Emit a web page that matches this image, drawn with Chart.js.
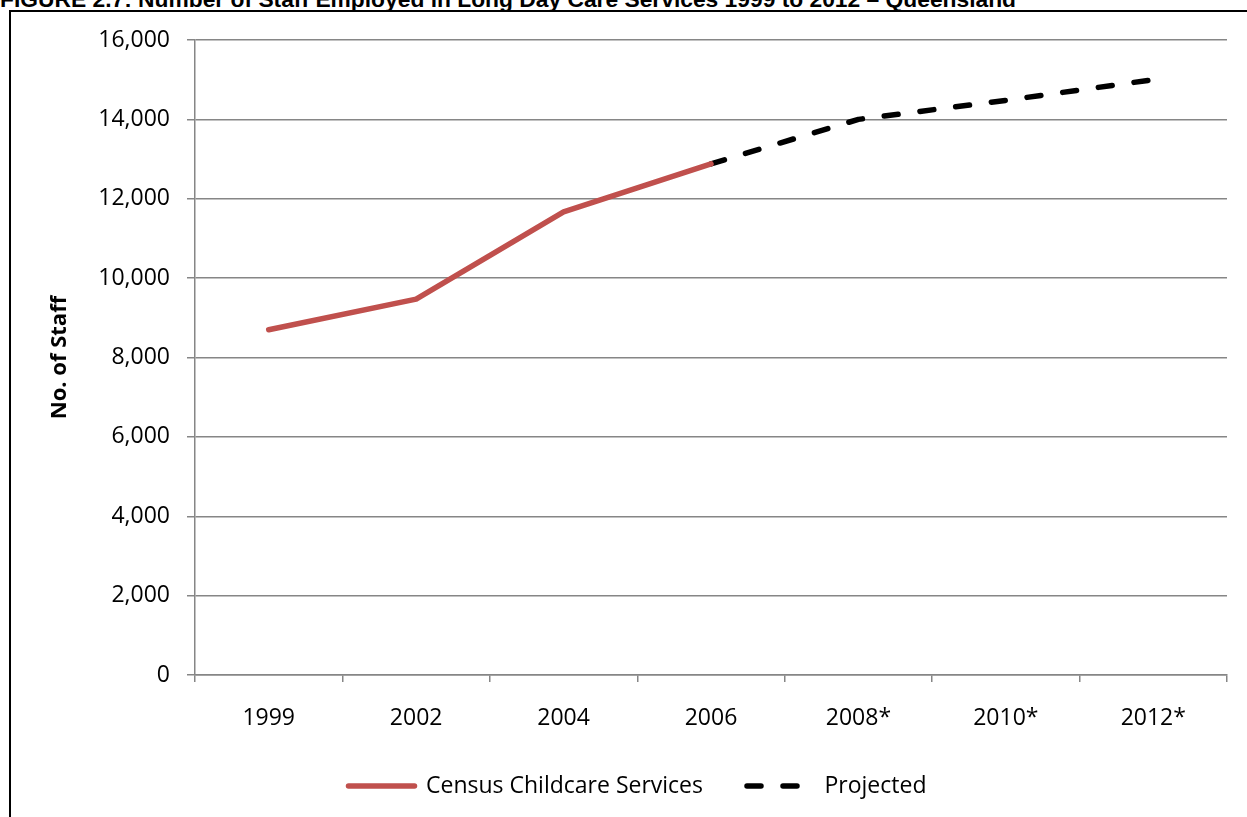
<!DOCTYPE html>
<html>
<head>
<meta charset="utf-8">
<script src="https://cdn.jsdelivr.net/npm/chart.js@4.4.1/dist/chart.umd.min.js"></script>
<style>
  html, body { margin: 0; padding: 0; background: #fff; overflow: hidden; }
  #title {
    position: absolute; left: 0; top: -12px; white-space: nowrap;
    font: bold 22.8px "Liberation Sans", Arial, sans-serif; line-height: 23px; color: #000;
  }
  #frame {
    position: absolute; left: 9px; top: 10px; width: 1300px; height: 900px;
    border: 2px solid #000; box-sizing: border-box;
  }
  #wrap { position: absolute; left: 0; top: 0; width: 1247px; height: 817px; }
</style>
</head>
<body>
<div id="title">FIGURE 2.7: Number of Staff Employed in Long Day Care Services 1999 to 2012 – Queensland</div>
<div id="frame"></div>
<div id="wrap"><canvas id="staffChart" width="1247" height="817"></canvas></div>
<script>
// 数据
const years = ["1999", "2002", "2004", "2006", "2008*", "2010*", "2012*"];
const censusStaff = [8700, 9470, 11670, 12880, null, null, null];
const projectedStaff = [null, null, null, 12880, 14000, 14480, 15000];

const gridColor = "#868686";
const fontFamily = '"Open Sans", "Noto Sans", sans-serif';

new Chart(document.getElementById("staffChart").getContext("2d"), {
  type: "line",
  data: {
    labels: years,
    datasets: [
      {
        label: "Census Childcare Services",
        data: censusStaff,
        borderColor: "#C0504D",
        backgroundColor: "#C0504D",
        borderWidth: 5.5,
        borderCapStyle: "round",
        borderJoinStyle: "round",
        pointRadius: 0,
        fill: false,
      },
      {
        label: "Projected",
        data: projectedStaff,
        borderColor: "#000000",
        backgroundColor: "#000000",
        borderWidth: 5.5,
        borderDash: [14, 22],
        borderCapStyle: "round",
        borderJoinStyle: "round",
        pointRadius: 0,
        fill: false,
      },
    ],
  },
  options: {
    responsive: false,
    animation: false,
    layout: { padding: { left: 48, right: 20, top: 40, bottom: 9.5 } },
    plugins: {
      tooltip: { enabled: false },
      legend: {
        position: "bottom",
        labels: {
          usePointStyle: true,
          pointStyle: "line",
          pointStyleWidth: 66,
          padding: 44,
          color: "#000",
          font: { family: fontFamily, size: 23 },
          // 图例线条要带虚线样式
          generateLabels: (chart) => {
            const items = Chart.defaults.plugins.legend.labels.generateLabels(chart);
            items.forEach((item) => {
              const ds = chart.data.datasets[item.datasetIndex];
              item.lineDash = ds.borderDash || [];
              item.lineWidth = 5.5;
              item.lineCap = "round";
              item.strokeStyle = ds.borderColor;
            });
            return items;
          },
        },
      },
    },
    scales: {
      x: {
        offset: true,
        afterFit: (scale) => { scale.height = 55.5; },
        grid: {
          offset: true,
          drawOnChartArea: false,
          drawTicks: true,
          tickLength: 7,
          color: gridColor,
          lineWidth: 1.5,
        },
        border: { display: true, color: gridColor, width: 1.5 },
        ticks: {
          padding: 23,
          color: "#000",
          font: { family: fontFamily, size: 23 },
          maxRotation: 0,
        },
      },
      y: {
        min: 0,
        max: 16000,
        afterFit: (scale) => { scale.width = 147; },
        grid: { color: gridColor, lineWidth: 1.5, tickLength: 8 },
        border: { display: true, color: gridColor, width: 1.5 },
        ticks: {
          stepSize: 2000,
          padding: 17,
          color: "#000",
          font: { family: fontFamily, size: 23 },
          callback: (v) => v.toLocaleString("en-US"),
        },
        title: {
          display: true,
          text: "No. of Staff",
          color: "#000",
          padding: { top: -1, bottom: 0 },
          font: { family: fontFamily, size: 22, weight: "bold" },
        },
      },
    },
  },
});
</script>
</body>
</html>
